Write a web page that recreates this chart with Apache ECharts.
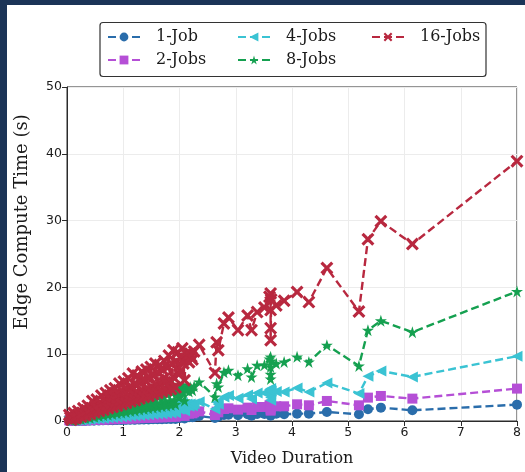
<!DOCTYPE html>
<html>
<head>
<meta charset="utf-8">
<script src="https://cdn.jsdelivr.net/npm/echarts/dist/echarts.min.js"></script>
<style>
  html, body { margin: 0; padding: 0; width: 525px; height: 472px; overflow: hidden; background: #1b3457; }
  #chart { position: absolute; left: 7px; top: 5px; width: 518px; height: 467px; background: #ffffff; }
</style>
</head>
<body>
<div id="chart"></div>
<script>
// Video duration of each clip (x), shared by every job-count series
const duration = [
  0.04, 0.06, 0.08, 0.10, 0.12, 0.14, 0.16, 0.18, 0.20, 0.22,
  0.25, 0.27, 0.29, 0.31, 0.33, 0.35, 0.37, 0.39, 0.41, 0.43,
  0.45, 0.47, 0.49, 0.51, 0.53, 0.55, 0.57, 0.59, 0.61, 0.63,
  0.65, 0.67, 0.69, 0.71, 0.73, 0.75, 0.77, 0.79, 0.81, 0.83,
  0.85, 0.87, 0.89, 0.91, 0.93, 0.95, 0.97, 0.99, 1.01, 1.03,
  1.05, 1.07, 1.09, 1.11, 1.13, 1.15, 1.17, 1.19, 1.21, 1.23,
  1.25, 1.27, 1.29, 1.31, 1.33, 1.35, 1.37, 1.39, 1.41, 1.43,
  1.45, 1.47, 1.49, 1.51, 1.53, 1.55, 1.57, 1.59, 1.61, 1.63,
  1.65, 1.67, 1.69, 1.71, 1.73, 1.75, 1.77, 1.79, 1.81, 1.83,
  1.85, 1.87, 1.89, 1.91, 1.93, 1.95, 1.97, 1.99, 2.01, 2.03,
  2.05, 2.07, 2.09, 2.11, 2.13, 2.15, 2.17, 2.19, 2.21, 2.23,
  2.26,
  2.35, 2.63, 2.66, 2.69, 2.79, 2.87, 3.04, 3.21, 3.28, 3.38,
  3.51, 3.60, 3.62, 3.62, 3.62, 3.62, 3.63, 3.72, 3.86, 4.09,
  4.30, 4.62, 5.19, 5.35, 5.58, 6.14, 8.00
];

// Edge compute time (s) per concurrent job count
const job1 = [
  0.06, 0.03, 0.01, 0.04, 0.08, 0.03, 0.03, 0.05, 0.09, 0.06,
  0.04, 0.08, 0.12, 0.06, 0.05, 0.10, 0.14, 0.08, 0.07, 0.12,
  0.19, 0.09, 0.08, 0.14, 0.20, 0.11, 0.09, 0.16, 0.24, 0.13,
  0.11, 0.19, 0.26, 0.15, 0.12, 0.21, 0.29, 0.16, 0.13, 0.23,
  0.31, 0.18, 0.14, 0.26, 0.35, 0.19, 0.16, 0.28, 0.37, 0.21,
  0.17, 0.30, 0.40, 0.23, 0.18, 0.32, 0.44, 0.24, 0.19, 0.34,
  0.43, 0.26, 0.21, 0.37, 0.46, 0.28, 0.23, 0.38, 0.48, 0.29,
  0.23, 0.41, 0.51, 0.31, 0.25, 0.43, 0.54, 0.33, 0.26, 0.45,
  0.53, 0.34, 0.28, 0.48, 0.56, 0.36, 0.29, 0.50, 0.61, 0.38,
  0.30, 0.53, 0.66, 0.40, 0.31, 0.56, 0.64, 0.44, 0.46, 0.61,
  0.68, 0.54, 0.38, 0.58, 0.64, 0.62, 0.55, 0.63, 0.60, 0.58,
  0.65,
  0.75, 0.45, 0.70, 0.65, 0.90, 0.95, 0.85, 1.00, 0.80, 1.05,
  1.05, 1.20, 1.25, 1.00, 0.90, 0.80, 1.10, 1.10, 1.00, 1.10,
  1.10, 1.35, 1.00, 1.75, 2.00, 1.60, 2.45
];
const job2 = [
  0.11, 0.06, 0.03, 0.08, 0.15, 0.06, 0.05, 0.10, 0.19, 0.11,
  0.08, 0.15, 0.24, 0.12, 0.11, 0.20, 0.29, 0.15, 0.13, 0.24,
  0.38, 0.19, 0.16, 0.29, 0.40, 0.23, 0.19, 0.33, 0.48, 0.25,
  0.21, 0.38, 0.53, 0.30, 0.24, 0.43, 0.58, 0.33, 0.26, 0.46,
  0.61, 0.36, 0.29, 0.51, 0.70, 0.39, 0.31, 0.55, 0.74, 0.43,
  0.34, 0.60, 0.80, 0.46, 0.37, 0.64, 0.89, 0.49, 0.39, 0.69,
  0.85, 0.53, 0.42, 0.74, 0.93, 0.55, 0.45, 0.76, 0.96, 0.59,
  0.47, 0.81, 1.01, 0.63, 0.50, 0.86, 1.08, 0.66, 0.53, 0.90,
  1.05, 0.69, 0.55, 0.95, 1.13, 0.73, 0.58, 1.00, 1.23, 0.76,
  0.60, 1.06, 1.33, 0.80, 0.63, 1.11, 1.29, 0.88, 0.93, 1.21,
  1.36, 1.08, 0.76, 1.16, 1.28, 1.24, 1.10, 1.26, 1.20, 1.15,
  1.30,
  1.45, 0.90, 1.40, 1.30, 1.80, 1.90, 1.70, 2.00, 1.65, 2.10,
  2.10, 2.35, 2.45, 2.05, 1.75, 1.55, 2.25, 2.20, 2.20, 2.50,
  2.35, 3.00, 2.35, 3.50, 3.75, 3.35, 4.85
];
const job4 = [
  0.22, 0.12, 0.05, 0.15, 0.30, 0.11, 0.10, 0.20, 0.38, 0.22,
  0.16, 0.30, 0.48, 0.24, 0.21, 0.40, 0.58, 0.30, 0.26, 0.48,
  0.75, 0.38, 0.33, 0.58, 0.80, 0.45, 0.38, 0.65, 0.95, 0.50,
  0.43, 0.75, 1.05, 0.60, 0.48, 0.85, 1.15, 0.65, 0.53, 0.93,
  1.22, 0.73, 0.58, 1.03, 1.40, 0.78, 0.63, 1.10, 1.48, 0.85,
  0.68, 1.20, 1.60, 0.93, 0.74, 1.28, 1.78, 0.98, 0.78, 1.38,
  1.70, 1.05, 0.84, 1.48, 1.85, 1.10, 0.90, 1.53, 1.93, 1.18,
  0.94, 1.63, 2.03, 1.25, 1.00, 1.73, 2.15, 1.33, 1.05, 1.80,
  2.10, 1.38, 1.10, 1.90, 2.25, 1.45, 1.15, 2.00, 2.45, 1.53,
  1.20, 2.13, 2.65, 1.60, 1.25, 2.23, 2.58, 1.75, 1.85, 2.43,
  2.73, 2.15, 1.53, 2.33, 2.55, 2.48, 2.20, 2.53, 2.40, 2.30,
  2.60,
  2.90, 1.80, 2.80, 2.50, 3.60, 3.80, 3.40, 3.90, 3.30, 4.20,
  4.20, 4.70, 4.85, 4.10, 3.50, 3.10, 4.50, 4.40, 4.35, 4.95,
  4.35, 5.70, 4.10, 6.70, 7.50, 6.60, 9.70
];
const job8 = [
  0.45, 0.25, 0.10, 0.30, 0.60, 0.22, 0.20, 0.40, 0.75, 0.45,
  0.30, 0.60, 0.95, 0.50, 0.45, 0.80, 1.15, 0.60, 0.50, 0.95,
  1.50, 0.75, 0.65, 1.15, 1.60, 0.90, 0.75, 1.30, 1.90, 1.00,
  0.85, 1.50, 2.10, 1.20, 0.95, 1.70, 2.30, 1.30, 1.05, 1.85,
  2.45, 1.45, 1.15, 2.05, 2.80, 1.55, 1.25, 2.20, 2.95, 1.70,
  1.35, 2.40, 3.20, 1.85, 1.50, 2.55, 3.55, 1.95, 1.55, 2.75,
  3.40, 2.10, 1.70, 2.95, 3.70, 2.20, 1.80, 3.05, 3.85, 2.35,
  1.90, 3.25, 4.05, 2.50, 2.00, 3.45, 4.30, 2.65, 2.10, 3.60,
  4.20, 2.75, 2.20, 3.80, 4.50, 2.90, 2.30, 4.00, 4.90, 3.05,
  2.40, 4.25, 5.30, 3.20, 2.50, 4.45, 5.15, 3.50, 3.70, 4.85,
  5.45, 4.30, 3.05, 4.65, 5.10, 4.95, 4.40, 5.05, 4.80, 4.60,
  5.20,
  5.85, 3.60, 5.60, 5.10, 7.30, 7.60, 6.85, 7.85, 6.60, 8.35,
  8.40, 9.30, 9.60, 8.10, 7.00, 6.30, 9.00, 8.60, 8.85, 9.60,
  8.85, 11.35, 8.25, 13.60, 15.00, 13.30, 19.40
];
const job16 = [
  0.90, 0.50, 0.20, 0.60, 1.20, 0.45, 0.40, 0.80, 1.50, 0.90,
  0.65, 1.20, 1.90, 0.95, 0.85, 1.60, 2.30, 1.20, 1.05, 1.90,
  3.00, 1.50, 1.30, 2.30, 3.20, 1.80, 1.50, 2.60, 3.80, 2.00,
  1.70, 3.00, 4.20, 2.40, 1.90, 3.40, 4.60, 2.60, 2.10, 3.70,
  4.90, 2.90, 2.30, 4.10, 5.60, 3.10, 2.50, 4.40, 5.90, 3.40,
  2.70, 4.80, 6.40, 3.70, 2.95, 5.10, 7.10, 3.90, 3.10, 5.50,
  6.80, 4.20, 3.35, 5.90, 7.40, 4.40, 3.60, 6.10, 7.70, 4.70,
  3.75, 6.50, 8.10, 5.00, 4.00, 6.90, 8.60, 5.30, 4.20, 7.20,
  8.40, 5.50, 4.40, 7.60, 9.00, 5.80, 4.60, 8.00, 9.80, 6.10,
  4.80, 8.50, 10.60, 6.40, 5.00, 8.90, 10.30, 7.00, 7.40, 9.70,
  10.90, 8.60, 6.10, 9.30, 10.20, 9.90, 8.80, 10.10, 9.60, 9.20,
  10.40,
  11.40, 7.20, 11.80, 10.60, 14.60, 15.50, 13.60, 15.80, 13.60, 16.30,
  17.00, 18.60, 19.10, 16.60, 13.90, 12.10, 18.20, 17.30, 18.00, 19.30,
  17.80, 22.90, 16.40, 27.20, 29.90, 26.50, 38.90
];

const seriesNames = ['1-Job', '2-Jobs', '4-Jobs', '8-Jobs', '16-Jobs'];
const seriesValues = [job1, job2, job4, job8, job16];
const xTicks = { min: 0, max: 8, interval: 1 };
const yTicks = { min: 0, max: 50, interval: 10 };

const colors = ['#2a6dab', '#b54fd6', '#3ac3d3', '#15a050', '#b8283f'];
const symbols = [
  'circle',
  'rect',
  'path://M0,5 L10,0 L10,10 Z',
  'path://M50,0 L61.2,34.5 L97.6,34.5 L68.2,55.9 L79.4,90.5 L50,69.1 L20.6,90.5 L31.8,55.9 L2.4,34.5 L38.8,34.5 Z',
  'path://M1.7,0 L5,3.3 L8.3,0 L10,1.7 L6.7,5 L10,8.3 L8.3,10 L5,6.7 L1.7,10 L0,8.3 L3.3,5 L0,1.7 Z'
];
const symbolSizes = [10, 10, 11, 12, 13];

const series = seriesNames.map((name, k) => ({
  name: name,
  type: 'line',
  data: duration.map((x, i) => [x, seriesValues[k][i]]),
  symbol: symbols[k],
  symbolSize: symbolSizes[k],
  showAllSymbol: true,
  lineStyle: { color: colors[k], width: 2.4, type: [8, 4] },
  itemStyle: { color: colors[k] },
  emphasis: { disabled: true },
  z: 2 + k
}));

const serif = '"DejaVu Serif", serif';
const sans = '"DejaVu Sans", sans-serif';

function legendColumn(names, left) {
  return {
    data: names,
    orient: 'vertical',
    left: left,
    top: 24,
    padding: 0,
    itemGap: 7,
    itemWidth: 32,
    itemHeight: 11,
    selectedMode: false,
    textStyle: { fontFamily: serif, fontSize: 16, color: '#1a1a1a', lineHeight: 16, padding: [0, 0, 0, 11] }
  };
}

const chart = echarts.init(document.getElementById('chart'), null, { renderer: 'canvas' });
chart.setOption({
  animation: false,
  backgroundColor: '#ffffff',
  grid: {
    left: 60, right: 8, top: 82, bottom: 51,
    outerBoundsMode: 'none',
    containLabel: false,
    show: true, borderColor: '#2b2b2b', borderWidth: 1, backgroundColor: 'transparent'
  },
  legend: [
    legendColumn(['1-Job', '2-Jobs'], 100),
    legendColumn(['4-Jobs', '8-Jobs'], 230),
    legendColumn(['16-Jobs'], 364)
  ],
  graphic: [{
    type: 'rect',
    shape: { x: 93, y: 17.5, width: 386, height: 54, r: 3 },
    style: { fill: 'none', stroke: '#333333', lineWidth: 1.2 },
    silent: true
  }],
  xAxis: {
    type: 'value',
    min: xTicks.min, max: xTicks.max, interval: xTicks.interval,
    name: 'Video Duration',
    nameLocation: 'middle',
    nameGap: 30,
    nameTextStyle: { fontFamily: serif, fontSize: 16, color: '#1a1a1a' },
    axisLine: { show: true, onZero: false, lineStyle: { color: '#2b2b2b', width: 1 } },
    axisTick: { show: true, inside: false, length: 5, lineStyle: { color: '#2b2b2b' } },
    axisLabel: { fontFamily: sans, fontSize: 12.5, color: '#1a1a1a', margin: 5 },
    splitLine: { show: true, lineStyle: { color: '#ececec', width: 1 } }
  },
  yAxis: {
    type: 'value',
    min: yTicks.min, max: yTicks.max, interval: yTicks.interval,
    name: 'Edge Compute Time (s)',
    nameLocation: 'middle',
    nameRotate: 90,
    nameGap: 36,
    nameTextStyle: { fontFamily: serif, fontSize: 18, color: '#1a1a1a', padding: [0, 0, 0, 64] },
    axisLine: { show: true, onZero: false, lineStyle: { color: '#2b2b2b', width: 1 } },
    axisTick: { show: true, inside: false, length: 5, lineStyle: { color: '#2b2b2b' } },
    axisLabel: { fontFamily: sans, fontSize: 12.5, color: '#1a1a1a', margin: 5 },
    splitLine: { show: true, lineStyle: { color: '#ececec', width: 1 } }
  },
  series: series
});
</script>
</body>
</html>
